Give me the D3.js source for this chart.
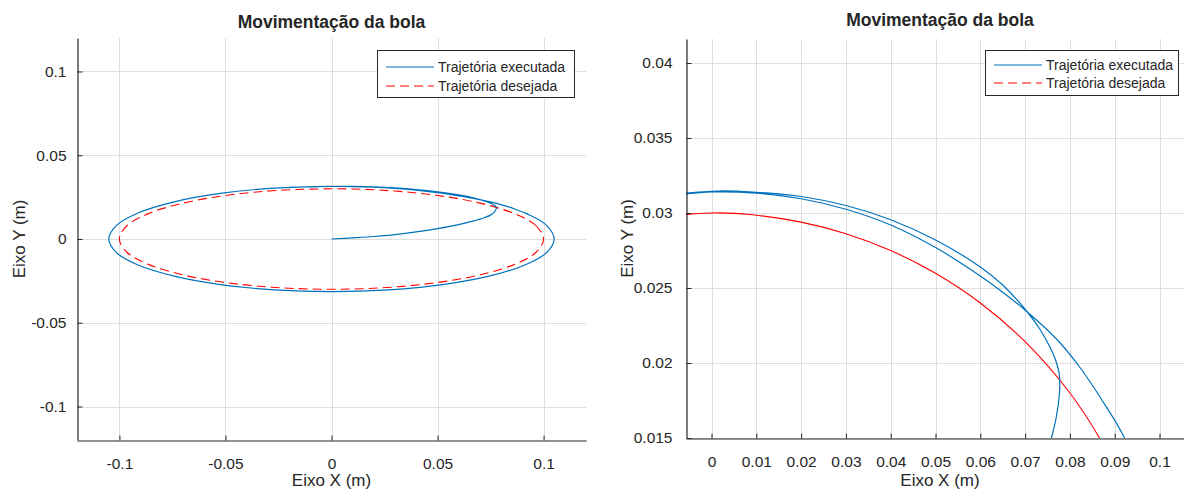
<!DOCTYPE html>
<html>
<head>
<meta charset="utf-8">
<script src="https://cdn.jsdelivr.net/npm/d3@7"></script>
<style>
  html, body { margin: 0; padding: 0; background: #fff; }
  svg { display: block; }
  text { font-family: "Liberation Sans", Arial, Helvetica, sans-serif; fill: #262626; }
</style>
</head>
<body>
<svg id="chart" width="1184" height="491"></svg>
<script>
// Desired path: reference ellipse the ball should follow (x, y in metres)
const desiredPath = [
  [0.1, 0], [0.0966, 0.00776], [0.0917, 0.012], [0.0866, 0.015], [0.08, 0.018],
  [0.07, 0.02142], [0.06, 0.024], [0.05, 0.02598], [0.04, 0.0275], [0.03, 0.02862],
  [0.02, 0.02939], [0.01, 0.02985], [0, 0.03], [-0.02588, 0.02898], [-0.05, 0.02598],
  [-0.0707, 0.02121], [-0.0866, 0.015], [-0.0966, 0.00776], [-0.1, 0],
  [-0.0966, -0.00776], [-0.0866, -0.015], [-0.0707, -0.02121], [-0.05, -0.02598],
  [-0.02588, -0.02898], [0, -0.03], [0.02588, -0.02898], [0.05, -0.02598],
  [0.0707, -0.02121], [0.0866, -0.015], [0.0966, -0.00776]
];

// Executed path, part 1: start-up from the origin until the ball reaches the orbit
const startupPath = [
  [0, 0], [0.01, 0.0007], [0.02, 0.0015], [0.03, 0.0026], [0.04, 0.0042],
  [0.05, 0.0062], [0.06, 0.0086], [0.067, 0.0108], [0.072, 0.0127], [0.0752, 0.0144],
  [0.0769, 0.0163], [0.0777, 0.0181], [0.0776, 0.0193], [0.0768, 0.0202],
  [0.0753, 0.0212], [0.0732, 0.0223], [0.0705, 0.0234], [0.065, 0.0252],
  [0.06, 0.0264], [0.05, 0.0282], [0.04, 0.02955], [0.03, 0.0305], [0.02, 0.0311],
  [0.01, 0.03138], [0, 0.03145]
];

// Executed path, part 2: the steady orbit that follows
const orbitPath = [
  [-0.0272, 0.03033], [-0.0525, 0.0272], [-0.0742, 0.0222], [-0.0909, 0.0157],
  [-0.1014, 0.00813], [-0.105, 0], [-0.1014, -0.00813], [-0.0909, -0.0157],
  [-0.0742, -0.0222], [-0.0525, -0.0272], [-0.0272, -0.03033], [0, -0.0314],
  [0.0272, -0.03033], [0.0525, -0.0272], [0.0742, -0.0222], [0.0909, -0.0157],
  [0.1014, -0.00813], [0.105, 0], [0.1014, 0.00813], [0.0922, 0.015], [0.087, 0.0176],
  [0.082, 0.0198], [0.077, 0.0216], [0.0705, 0.0234], [0.065, 0.02472], [0.06, 0.0258],
  [0.05, 0.0277], [0.04, 0.0292], [0.03, 0.03025], [0.02, 0.03095], [0.01, 0.03132],
  [0, 0.0314], [-0.02, 0.0308]
];

const executedPath = startupPath.concat(orbitPath);

// Tick values
const overviewXTicks = [-0.1, -0.05, 0, 0.05, 0.1];
const overviewYTicks = [-0.1, -0.05, 0, 0.05, 0.1];
const detailXTicks = [0, 0.01, 0.02, 0.03, 0.04, 0.05, 0.06, 0.07, 0.08, 0.09, 0.1];
const detailYTicks = [0.015, 0.02, 0.025, 0.03, 0.035, 0.04];

const titleText = "Movimentação da bola";
const xLabelText = "Eixo X (m)";
const yLabelText = "Eixo Y (m)";
const legendLabels = ["Trajetória executada", "Trajetória desejada"];

const BLUE = "#0072BD";
const RED = "#FF0000";
const AXIS = "#262626";
const GRID = "#dfdfdf";

const svg = d3.select("#chart");
const fmt = v => String(+v.toFixed(4));

function drawPanel(cfg) {
  const x = d3.scaleLinear().domain(cfg.xDomain).range([cfg.left, cfg.right]);
  const y = d3.scaleLinear().domain(cfg.yDomain).range([cfg.bottom, cfg.top]);
  const g = svg.append("g");

  const clipId = "clip-" + cfg.id;
  svg.append("defs").append("clipPath").attr("id", clipId)
    .append("rect")
    .attr("x", cfg.left).attr("y", cfg.top)
    .attr("width", cfg.right - cfg.left).attr("height", cfg.bottom - cfg.top);

  // grid
  g.append("g").selectAll("line").data(cfg.xTicks).join("line")
    .attr("x1", d => Math.round(x(d)) + 0.5).attr("x2", d => Math.round(x(d)) + 0.5)
    .attr("y1", cfg.top).attr("y2", cfg.bottom)
    .attr("stroke", GRID).attr("stroke-width", 1);
  g.append("g").selectAll("line").data(cfg.yTicks).join("line")
    .attr("y1", d => Math.round(y(d)) + 0.5).attr("y2", d => Math.round(y(d)) + 0.5)
    .attr("x1", cfg.left).attr("x2", cfg.right)
    .attr("stroke", GRID).attr("stroke-width", 1);

  // curves
  const line = d3.line().x(d => x(d[0])).y(d => y(d[1]));
  const plot = g.append("g").attr("clip-path", `url(#${clipId})`);
  plot.append("path").datum(desiredPath)
    .attr("d", line.curve(d3.curveCatmullRomClosed.alpha(0.5)))
    .attr("fill", "none").attr("stroke", RED).attr("stroke-width", 1.1)
    .attr("stroke-dasharray", cfg.dashed ? "9,5" : null);
  plot.append("path").datum(executedPath)
    .attr("d", line.curve(d3.curveCatmullRom.alpha(0.5)))
    .attr("fill", "none").attr("stroke", BLUE).attr("stroke-width", 1.2);

  // axes (ticks pointing inward)
  const xAxis = d3.axisBottom(x).tickValues(cfg.xTicks).tickFormat(fmt)
    .tickSizeInner(-5).tickSizeOuter(0).tickPadding(17);
  const yAxis = d3.axisLeft(y).tickValues(cfg.yTicks).tickFormat(fmt)
    .tickSizeInner(-5).tickSizeOuter(0).tickPadding(cfg.yPad);

  const gx = g.append("g").attr("transform", `translate(0,${cfg.bottom + 0.5})`).call(xAxis);
  const gy = g.append("g").attr("transform", `translate(${cfg.left + 0.5},0)`).call(yAxis);
  [gx, gy].forEach(a => {
    a.select(".domain").attr("stroke", AXIS).attr("stroke-width", 1.2);
    a.selectAll(".tick line").attr("stroke", AXIS).attr("stroke-width", 1);
    a.selectAll(".tick text").attr("fill", AXIS)
      .style("font-family", '"Liberation Sans", Arial, sans-serif')
      .style("font-size", "15.5px");
  });

  // title and axis labels
  const cx = (cfg.left + cfg.right) / 2;
  const cy = (cfg.top + cfg.bottom) / 2;
  g.append("text").attr("x", cx).attr("y", cfg.titleY)
    .attr("text-anchor", "middle").style("font-size", "17.5px").style("font-weight", "bold")
    .text(titleText);
  g.append("text").attr("x", cx).attr("y", 486)
    .attr("text-anchor", "middle").style("font-size", "17px")
    .text(xLabelText);
  g.append("text").attr("transform", `translate(${cfg.yLabelX},${cy}) rotate(-90)`)
    .attr("text-anchor", "middle").style("font-size", "17px")
    .text(yLabelText);

  // legend
  const L = cfg.legend;
  const lg = g.append("g");
  lg.append("rect").attr("x", L.x + 0.5).attr("y", L.y + 0.5)
    .attr("width", L.w).attr("height", L.h)
    .attr("fill", "#fff").attr("stroke", AXIS).attr("stroke-width", 1);
  const rows = [
    { label: legendLabels[0], color: BLUE, dash: null, dy: L.row1 },
    { label: legendLabels[1], color: RED, dash: "9,5", dy: L.row2 }
  ];
  rows.forEach(r => {
    lg.append("line")
      .attr("x1", L.x + 9).attr("x2", L.x + 57)
      .attr("y1", L.y + r.dy).attr("y2", L.y + r.dy)
      .attr("stroke", r.color).attr("stroke-width", 1.2)
      .attr("stroke-dasharray", r.dash);
    lg.append("text").attr("x", L.x + 61).attr("y", L.y + r.dy + 5)
      .style("font-size", "14px").text(r.label);
  });
}

drawPanel({
  id: "overview",
  left: 77, right: 586, top: 38, bottom: 440,
  xDomain: [-0.12, 0.12], yDomain: [-0.12, 0.12],
  xTicks: overviewXTicks, yTicks: overviewYTicks,
  dashed: true, titleY: 28, yLabelX: 25, yPad: 11,
  legend: { x: 377, y: 50, w: 197, h: 47, row1: 17, row2: 36 }
});

drawPanel({
  id: "detail",
  left: 686, right: 1194, top: 39, bottom: 438,
  xDomain: [-0.0057, 0.1077], yDomain: [0.015, 0.0416],
  xTicks: detailXTicks, yTicks: detailYTicks,
  dashed: false, titleY: 26, yLabelX: 633, yPad: 14,
  legend: { x: 985, y: 50, w: 193, h: 45, row1: 15, row2: 33 }
});
</script>
</body>
</html>
